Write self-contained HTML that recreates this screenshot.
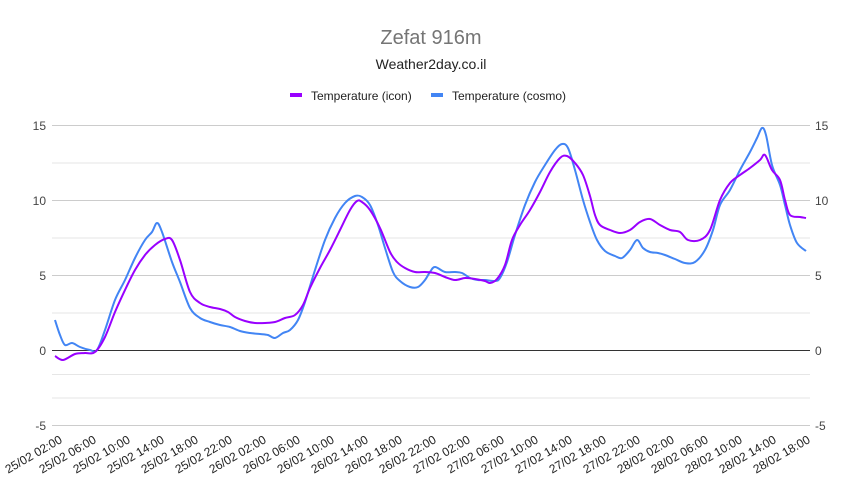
<!DOCTYPE html>
<html><head><style>body{margin:0;background:#fff}svg{display:block}text{font-family:"Liberation Sans",Arial,sans-serif}</style></head><body>
<svg id="s" width="862" height="494" viewBox="0 0 862 494" xmlns="http://www.w3.org/2000/svg">
<rect width="862" height="494" fill="#fff"/>
<text x="431" y="44" font-size="20" fill="#757575" text-anchor="middle">Zefat 916m</text>
<text x="431" y="69" font-size="14" fill="#222" text-anchor="middle">Weather2day.co.il</text>
<rect x="290" y="93" width="12" height="4" fill="#9900ff"/>
<text x="311" y="100" font-size="12" fill="#222">Temperature (icon)</text>
<rect x="431" y="93" width="12" height="4" fill="#4285f4"/>
<text x="452" y="100" font-size="12" fill="#222">Temperature (cosmo)</text>
<g stroke="#e6e6e6" stroke-width="1">
<line x1="52" x2="810" y1="125.5" y2="125.5" stroke="#ccc"/>
<line x1="52" x2="810" y1="163" y2="163"/>
<line x1="52" x2="810" y1="200.5" y2="200.5" stroke="#ccc"/>
<line x1="52" x2="810" y1="238" y2="238"/>
<line x1="52" x2="810" y1="275.5" y2="275.5" stroke="#ccc"/>
<line x1="52" x2="810" y1="313" y2="313"/>
<line x1="52" x2="810" y1="398" y2="398"/>
<line x1="52" x2="810" y1="374.5" y2="374.5"/>
<line x1="52" x2="810" y1="425.5" y2="425.5" stroke="#ccc"/>
</g>
<line x1="52" x2="810" y1="350.5" y2="350.5" stroke="#333" stroke-width="1"/>
<g font-size="12" fill="#444">
<text x="46" y="130" text-anchor="end">15</text><text x="46" y="205" text-anchor="end">10</text><text x="46" y="280" text-anchor="end">5</text><text x="46" y="355" text-anchor="end">0</text><text x="46" y="430" text-anchor="end">-5</text>
<text x="815" y="130">15</text><text x="815" y="205">10</text><text x="815" y="280">5</text><text x="815" y="355">0</text><text x="815" y="430">-5</text>
</g>
<polyline class="sm" fill="none" stroke="#4285f4" stroke-width="2" stroke-linejoin="round" points="55,320 60,335 65,345 72,343 80,347 90,350 97,350 105,330 115,300 125,280 135,258 145,240 152,232 157,223 162,232 172,262 180,282 190,308 200,318 210,322 220,325 230,327 240,331 250,333 260,334 268,335 275,338 283,333 290,330 298,320 305,302 315,270 325,240 335,218 345,203 355,196 362,197 370,205 378,225 385,248 393,272 400,281 410,287 418,287 425,280 430,272 435,267 445,272 455,272 462,273 470,278 478,280 485,280 495,281 500,278 507,262 515,235 525,205 535,182 545,165 555,150 562,144 568,148 575,170 583,200 590,222 597,240 605,251 615,256 622,258 630,250 637,240 643,248 650,252 658,253 665,255 675,259 685,263 695,262 705,250 713,230 720,205 730,190 740,170 750,152 757,138 762,128 766,135 772,165 780,185 785,205 790,225 797,243 806,251"/>
<polyline class="sm" fill="none" stroke="#9900ff" stroke-width="2" stroke-linejoin="round" points="55,356 63,360 75,354 85,353 95,352 105,337 115,312 125,290 135,270 145,255 155,245 165,239 172,240 180,260 190,292 200,303 210,307 220,309 228,312 235,317 245,321 255,323 265,323 275,322 285,318 295,315 303,305 310,288 320,268 330,250 340,230 350,210 357,201 362,202 370,210 380,228 390,252 397,262 405,268 415,272 425,272 435,273 445,277 455,280 465,278 475,279 485,281 490,283 497,279 505,265 512,240 520,225 530,210 540,192 550,172 560,158 567,156 575,163 583,175 590,196 595,215 600,225 610,230 620,233 630,230 640,222 650,219 660,225 670,230 680,232 688,240 700,240 710,230 720,200 730,183 740,175 750,168 760,160 765,155 772,170 780,180 785,200 790,215 800,217 806,218"/>
<g font-size="12" fill="#222" text-anchor="end">
<text transform="translate(63,442) rotate(-30)">25/02 02:00</text>
<text transform="translate(97,442) rotate(-30)">25/02 06:00</text>
<text transform="translate(131,442) rotate(-30)">25/02 10:00</text>
<text transform="translate(165,442) rotate(-30)">25/02 14:00</text>
<text transform="translate(199,442) rotate(-30)">25/02 18:00</text>
<text transform="translate(233,442) rotate(-30)">25/02 22:00</text>
<text transform="translate(267,442) rotate(-30)">26/02 02:00</text>
<text transform="translate(301,442) rotate(-30)">26/02 06:00</text>
<text transform="translate(335,442) rotate(-30)">26/02 10:00</text>
<text transform="translate(369,442) rotate(-30)">26/02 14:00</text>
<text transform="translate(403,442) rotate(-30)">26/02 18:00</text>
<text transform="translate(437,442) rotate(-30)">26/02 22:00</text>
<text transform="translate(471,442) rotate(-30)">27/02 02:00</text>
<text transform="translate(505,442) rotate(-30)">27/02 06:00</text>
<text transform="translate(539,442) rotate(-30)">27/02 10:00</text>
<text transform="translate(573,442) rotate(-30)">27/02 14:00</text>
<text transform="translate(607,442) rotate(-30)">27/02 18:00</text>
<text transform="translate(641,442) rotate(-30)">27/02 22:00</text>
<text transform="translate(675,442) rotate(-30)">28/02 02:00</text>
<text transform="translate(709,442) rotate(-30)">28/02 06:00</text>
<text transform="translate(743,442) rotate(-30)">28/02 10:00</text>
<text transform="translate(777,442) rotate(-30)">28/02 14:00</text>
<text transform="translate(811,442) rotate(-30)">28/02 18:00</text>
</g>
</svg>
<script>
document.querySelectorAll('polyline.sm').forEach(function(pl){
var p=pl.getAttribute('points').trim().split(/\s+/).map(function(s){return s.split(',').map(Number)});
var d='M'+p[0][0]+','+p[0][1];
for(var i=0;i<p.length-1;i++){
var p0=p[i-1]||p[i],p1=p[i],p2=p[i+1],p3=p[i+2]||p2;
var c1x=p1[0]+(p2[0]-p0[0])/6,c1y=p1[1]+(p2[1]-p0[1])/6;
var c2x=p2[0]-(p3[0]-p1[0])/6,c2y=p2[1]-(p3[1]-p1[1])/6;
d+=' C'+c1x.toFixed(1)+','+c1y.toFixed(1)+' '+c2x.toFixed(1)+','+c2y.toFixed(1)+' '+p2[0]+','+p2[1];}
var path=document.createElementNS('http://www.w3.org/2000/svg','path');
path.setAttribute('d',d);path.setAttribute('fill','none');
path.setAttribute('stroke',pl.getAttribute('stroke'));path.setAttribute('stroke-width','2');
pl.parentNode.replaceChild(path,pl);});
</script>
</body></html>
